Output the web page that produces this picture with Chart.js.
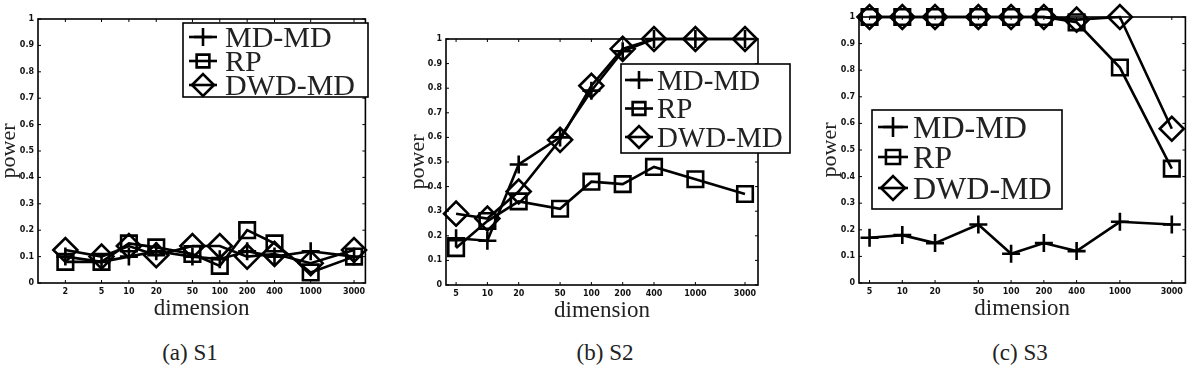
<!DOCTYPE html>
<html><head><meta charset="utf-8">
<script src="https://cdn.jsdelivr.net/npm/chart.js@4/dist/chart.umd.min.js"></script>
<style>
html,body{margin:0;padding:0;background:#fff;}
body{width:1200px;height:372px;position:relative;overflow:hidden;}
.panel{position:absolute;top:0;}
.cap{position:absolute;top:340px;font-family:"Liberation Serif",serif;font-size:23px;color:#222;transform:translateX(-50%);white-space:nowrap;}
</style></head><body>
<div class="panel" style="left:0px"><canvas id="c1" width="380" height="330"></canvas></div>
<div class="panel" style="left:409px"><canvas id="c2" width="386" height="330"></canvas></div>
<div class="panel" style="left:821px"><canvas id="c3" width="379" height="330"></canvas></div>
<div class="cap" style="left:190px">(a) S1</div>
<div class="cap" style="left:605px">(b) S2</div>
<div class="cap" style="left:1020px">(c) S3</div>
<script>
// ---- data ----
const dims1 = [2, 5, 10, 20, 50, 100, 200, 400, 1000, 3000];
const dims23 = [5, 10, 20, 50, 100, 200, 400, 1000, 3000];
const yTickValues = [0, 0.1, 0.2, 0.3, 0.4, 0.5, 0.6, 0.7, 0.8, 0.9, 1];
const yTickLabels = ['0', '0.1', '0.2', '0.3', '0.4', '0.5', '0.6', '0.7', '0.8', '0.9', '1'];
const seriesNames = ['MD-MD', 'RP', 'DWD-MD'];

const s1_MD  = [0.10, 0.08, 0.10, 0.12, 0.10, 0.09, 0.12, 0.10, 0.12, 0.10];
const s1_RP  = [0.08, 0.08, 0.15, 0.135, 0.11, 0.065, 0.20, 0.15, 0.04, 0.10];
const s1_DWD = [0.125, 0.10, 0.14, 0.105, 0.14, 0.14, 0.10, 0.11, 0.075, 0.125];

const s2_MD  = [0.19, 0.18, 0.49, 0.60, 0.79, 0.95, 1.00, 1.00, 1.00];
const s2_RP  = [0.15, 0.26, 0.34, 0.31, 0.42, 0.41, 0.48, 0.43, 0.37];
const s2_DWD = [0.29, 0.27, 0.38, 0.59, 0.81, 0.96, 1.00, 1.00, 1.00];

const s3_MD  = [0.17, 0.18, 0.15, 0.22, 0.11, 0.15, 0.12, 0.23, 0.22];
const s3_RP  = [1.00, 1.00, 1.00, 1.00, 1.00, 1.00, 0.98, 0.81, 0.43];
const s3_DWD = [1.00, 1.00, 1.00, 1.00, 1.00, 1.00, 0.99, 1.00, 0.58];

// ---- styles ----
const markerStyles = [
  {pointStyle: 'cross', radius: 9},
  {pointStyle: 'rect', radius: 11},
  {pointStyle: 'rectRot', radius: 12}
];
const LINE_W = 2.6;

function makeDatasets(dims, lists) {
  return lists.map((vals, i) => ({
    label: seriesNames[i],
    data: dims.map((d, j) => ({x: d, y: vals[j]})),
    borderColor: '#000',
    borderWidth: LINE_W,
    tension: 0,
    fill: false,
    pointStyle: markerStyles[i].pointStyle,
    pointRadius: markerStyles[i].radius,
    pointHoverRadius: markerStyles[i].radius,
    pointBorderWidth: LINE_W,
    pointBorderColor: '#000',
    pointBackgroundColor: 'rgba(0,0,0,0)',
    clip: false
  }));
}

const framePlugin = {
  id: 'frame',
  beforeDatasetsDraw(chart) {
    const {ctx, chartArea: a, scales: {x, y}} = chart;
    ctx.save();
    ctx.strokeStyle = '#000';
    ctx.lineWidth = 1;
    ctx.beginPath();
    x.ticks.forEach(t => {
      const px = x.getPixelForValue(t.value);
      ctx.moveTo(px, a.bottom); ctx.lineTo(px, a.bottom - 3);
      ctx.moveTo(px, a.top); ctx.lineTo(px, a.top + 3);
    });
    y.ticks.forEach(t => {
      const py = y.getPixelForValue(t.value);
      ctx.moveTo(a.left, py); ctx.lineTo(a.left + 3, py);
      ctx.moveTo(a.right, py); ctx.lineTo(a.right - 3, py);
    });
    ctx.stroke();
    ctx.lineWidth = 1.6;
    ctx.strokeRect(a.left, a.top, a.width, a.height);
    ctx.restore();
  }
};

const legendPlugin = {
  id: 'boxLegend',
  afterDatasetsDraw(chart, args, o) {
    const ctx = chart.ctx;
    ctx.save();
    ctx.fillStyle = '#fff';
    ctx.fillRect(o.x0, o.y0, o.x1 - o.x0, o.y1 - o.y0);
    ctx.strokeStyle = '#000';
    ctx.lineWidth = 1.6;
    ctx.strokeRect(o.x0, o.y0, o.x1 - o.x0, o.y1 - o.y0);
    chart.data.datasets.forEach((ds, i) => {
      const ry = o.rows[i];
      ctx.strokeStyle = '#000';
      ctx.lineWidth = LINE_W;
      ctx.beginPath();
      ctx.moveTo(o.mx - o.half, ry); ctx.lineTo(o.mx + o.half, ry);
      ctx.stroke();
      ctx.fillStyle = 'rgba(0,0,0,0)';
      Chart.helpers.drawPoint(ctx, {pointStyle: ds.pointStyle, radius: o.mr[i], borderWidth: LINE_W, rotation: 0}, o.mx, ry);
      ctx.fillStyle = '#222';
      ctx.font = o.font + 'px "Liberation Serif", serif';
      ctx.textBaseline = 'alphabetic';
      ctx.textAlign = 'left';
      ctx.fillText(ds.label, o.tx, ry + o.font * 0.33);
    });
    ctx.restore();
  }
};

function makeChart(id, dims, lists, xMin, pad, legendOpts) {
  const tickFont = {family: 'DejaVu Sans', size: 8, weight: 'bold'};
  return new Chart(document.getElementById(id), {
    type: 'line',
    data: {datasets: makeDatasets(dims, lists)},
    options: {
      responsive: false,
      animation: false,
      events: [],
      layout: {padding: pad},
      plugins: {
        legend: {display: false},
        title: {display: false},
        tooltip: {enabled: false},
        boxLegend: legendOpts
      },
      scales: {
        x: {
          type: 'logarithmic',
          min: xMin, max: 4000,
          afterFit(s) { s.height = 40; },
          afterBuildTicks(s) { s.ticks = dims.map(v => ({value: v})); },
          ticks: {autoSkip: false, maxRotation: 0, minRotation: 0, padding: 4, color: '#111', font: tickFont,
                  callback: (v) => String(v)},
          grid: {display: false, drawTicks: false},
          border: {display: false},
          title: {display: true, text: 'dimension', color: '#222',
                  font: {family: 'Liberation Serif', size: 23, lineHeight: 1}, padding: {top: 0, bottom: 3}}
        },
        y: {
          type: 'linear',
          min: 0, max: 1,
          afterFit(s) { s.width = pad.yw; },
          afterBuildTicks(s) { s.ticks = yTickValues.map(v => ({value: v})); },
          ticks: {padding: 4, color: '#111', font: tickFont,
                  callback: (v, i) => yTickLabels[i]},
          grid: {display: false, drawTicks: false},
          border: {display: false},
          title: {display: true, text: 'power', color: '#222',
                  font: {family: 'Liberation Serif', size: 22, lineHeight: 0.8}, padding: 0}
        }
      }
    },
    plugins: [framePlugin, legendPlugin]
  });
}

const mr = [9, 9, 11];
makeChart('c1', dims1, [s1_MD, s1_RP, s1_DWD], 1,
  {left: 0, top: 19, right: 8, bottom: 7, yw: 38},
  {x0: 183, y0: 23, x1: 368, y1: 97, rows: [37, 61, 85], mx: 203, half: 14, tx: 225, font: 30, mr: mr});
makeChart('c2', dims23, [s2_MD, s2_RP, s2_DWD], 4,
  {left: 0, top: 39, right: 37, bottom: 5, yw: 37},
  {x0: 212, y0: 64, x1: 381, y1: 153, rows: [80, 108.5, 137], mx: 230, half: 14, tx: 248, font: 29, mr: mr});
makeChart('c3', dims23, [s3_MD, s3_RP, s3_DWD], 4,
  {left: 0, top: 17, right: 6, bottom: 7, yw: 38},
  {x0: 51, y0: 110, x1: 241, y1: 209, rows: [127, 157, 188], mx: 72, half: 15, tx: 92, font: 32, mr: [10, 10, 12]});
</script>
</body></html>
